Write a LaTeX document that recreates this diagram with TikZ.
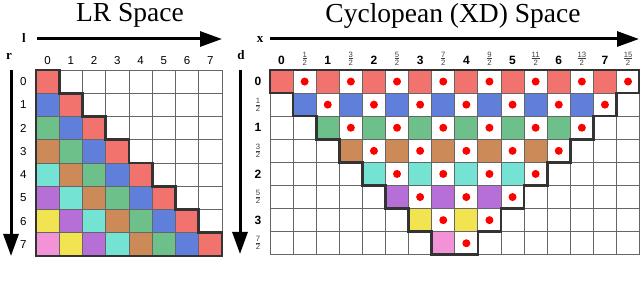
\documentclass[tikz,border=0pt]{standalone}
\usepackage{amsmath}
\usepackage{fontspec}
\setmainfont{Liberation Serif}
\setsansfont{Liberation Sans}
\usepackage{xcolor}
\usepackage{tikz}
\usetikzlibrary{arrows.meta}

\definecolor{col0}{HTML}{F2726E}
\definecolor{col1}{HTML}{5F7FDA}
\definecolor{col2}{HTML}{6EC08A}
\definecolor{col3}{HTML}{CC8A58}
\definecolor{col4}{HTML}{74E3D3}
\definecolor{col5}{HTML}{B56FD7}
\definecolor{col6}{HTML}{F2E350}
\definecolor{col7}{HTML}{F292D7}

\newcommand{\halfof}[1]{$\frac{\text{\sffamily #1}}{\text{\sffamily 2}}$}

\tikzset{
    titletext/.style={font=\fontsize{27.5}{29}\selectfont, inner sep=0pt},
    axislab/.style={font=\fontsize{13}{14}\selectfont\bfseries, inner sep=0pt},
    axisarrow/.style={line width=3pt, -{Triangle[length=22pt,width=15pt]}},
    gridline/.style={draw=black!60, line width=0.9pt},
    stairline/.style={draw=black!80, line width=2.6pt, line join=miter},
    numlab/.style={font=\sffamily\fontsize{11.5}{12}\selectfont, inner sep=0pt},
    intlab/.style={font=\sffamily\bfseries\fontsize{12}{13}\selectfont, inner sep=0pt},
    fraclab/.style={font=\sffamily\fontsize{11}{12}\selectfont, inner sep=0pt, text=black!75},
    dotmark/.style={circle, fill=red, inner sep=0pt, minimum size=8pt},
}

\begin{document}
\begin{tikzpicture}[x=1pt,y=-1pt]
    \useasboundingbox (0,0) rectangle (640,291);

    % titles
    \node[titletext, anchor=base] (lrtitle) at (130,21.5) {LR Space};
    \node[titletext, anchor=base] (xdtitle) at (453,22.5) {Cyclopean (XD) Space};

    % axes
    \coordinate (lbeg) at (37,39);
    \coordinate (lend) at (222,39);
    \coordinate (rbeg) at (11,70);
    \coordinate (rend) at (11,256);
    \coordinate (xbeg) at (270,39);
    \coordinate (xend) at (639,39);
    \coordinate (dbeg) at (240,70);
    \coordinate (dend) at (240,254);
    \draw[axisarrow] (lbeg) -- (lend);
    \draw[axisarrow] (rbeg) -- (rend);
    \draw[axisarrow] (xbeg) -- (xend);
    \draw[axisarrow] (dbeg) -- (dend);
    \node[axislab] (llab) at (24,38) {l};
    \node[axislab] (rlab) at (9,56) {r};
    \node[axislab] (xlab) at (260,40) {x};
    \node[axislab] (dlab) at (241,55) {d};

    % LR grid
    \begin{scope}[shift={(36pt,-70pt)}, x=23.25pt, y=-23.25pt]
        \foreach \r in {0,...,7} {
            \foreach \c in {0,...,\r} {
                \pgfmathtruncatemacro\k{\r-\c}
                \fill[col\k] (\c,\r) rectangle (\c+1,\r+1);
            }
        }
        \foreach \k in {0,...,8} {
            \draw[gridline] (\k,0) -- (\k,8);
            \draw[gridline] (0,\k) -- (8,\k);
        }
        \draw[stairline] (0,0) \foreach \i in {1,...,8} { -- (\i,\i-1) -- (\i,\i) } -- (0,8) -- cycle;

        \foreach \c in {0,...,7} {
            \node[numlab] (lcol\c) at (\c+0.5,-0.4) {\c};
            \node[numlab] (lrow\c) at (-0.55,\c+0.5) {\c};
        }
    \end{scope}

    % XD grid
    \begin{scope}[shift={(270pt,-70pt)}, x=23.1pt, y=-23.1pt]
        \foreach \i in {0,...,7} {
            \pgfmathtruncatemacro\jmax{15-\i}
            \foreach \j in {\i,...,\jmax} {
                \pgfmathtruncatemacro\k{\j-\i}
                \ifodd\k
                    \node[dotmark] (dot\i-\j) at (\j+0.5,\i+0.5) {};
                \else
                    \fill[col\i] (\j,\i) rectangle (\j+1,\i+1);
                \fi
            }
        }
        \foreach \k in {0,...,16} {
            \draw[gridline] (\k,0) -- (\k,8);
        }
        \foreach \k in {0,...,8} {
            \draw[gridline] (0,\k) -- (16,\k);
        }
        \draw[stairline] (0,0) -- (16,0)
            \foreach \i in {0,...,7} { -- (16-\i,\i) -- (16-\i,\i+1) }
            -- (7,8)
            \foreach \i in {7,...,0} { -- (\i,\i+1) -- (\i,\i) }
            -- cycle;

        \foreach \j in {0,...,15} {
            \pgfmathtruncatemacro\h{\j/2}
            \ifodd\j
                \node[fraclab] (xcol\j) at (\j+0.5,-0.5) {\halfof{\j}};
            \else
                \node[intlab] (xcol\j) at (\j+0.5,-0.41) {\h};
            \fi
        }
        \foreach \i in {0,...,7} {
            \pgfmathtruncatemacro\h{\i/2}
            \ifodd\i
                \node[fraclab] (drow\i) at (-0.52,\i+0.5) {\halfof{\i}};
            \else
                \node[intlab] (drow\i) at (-0.52,\i+0.5) {\h};
            \fi
        }
    \end{scope}
\end{tikzpicture}
\end{document}
